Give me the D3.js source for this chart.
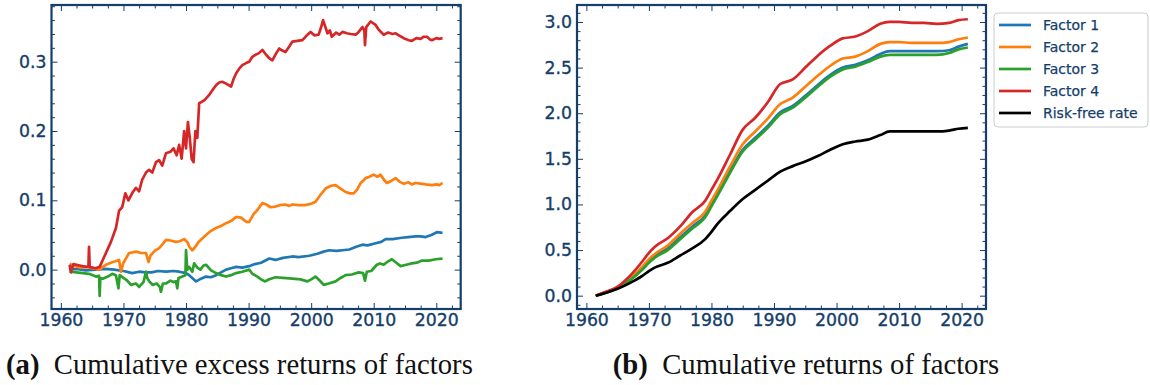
<!DOCTYPE html>
<html>
<head>
<meta charset="utf-8">
<script src="https://cdn.jsdelivr.net/npm/d3@7"></script>
<style>
  body { margin: 0; background: #fff; }
  svg { display: block; }
  .caption { font-family: "Liberation Serif", serif; fill: #111; }
</style>
</head>
<body>
<svg id="fig" width="1150" height="385"></svg>
<script>
// ---- data ----
const seriesNames = ['Factor 1', 'Factor 2', 'Factor 3', 'Factor 4', 'Risk-free rate'];
const seriesColors = ['#1f77b4', '#ff7f0e', '#2ca02c', '#d62728', '#000000'];

const xTicks = [1960, 1970, 1980, 1990, 2000, 2010, 2020];
const yTicksA = [0.0, 0.1, 0.2, 0.3];
const yTicksB = [0.0, 0.5, 1.0, 1.5, 2.0, 2.5, 3.0];

// (a) cumulative excess returns, [year, value]
const f1Excess = [[1961.4,0.0],[1962.5,0.001],[1964.0,-0.001],[1965.5,0.0],[1967.0,0.001],[1968.5,0.0],[1970.0,-0.002],[1971.4,-0.005],[1972.5,-0.003],[1973.5,-0.004],[1974.5,-0.004],[1975.5,-0.002],[1976.8,-0.003],[1978.0,-0.002],[1978.9,-0.003],[1980.0,-0.005],[1980.5,-0.008],[1981.0,-0.012],[1981.6,-0.017],[1982.2,-0.014],[1983.2,-0.01],[1984.0,-0.011],[1984.8,-0.008],[1985.6,-0.004],[1986.4,0.0],[1987.2,0.002],[1988.0,0.004],[1989.0,0.003],[1990.1,0.005],[1991.0,0.008],[1992.0,0.01],[1993.3,0.016],[1994.3,0.014],[1995.5,0.017],[1997.0,0.019],[1998.0,0.018],[1999.7,0.02],[2001.0,0.023],[2002.0,0.026],[2002.9,0.028],[2004.0,0.027],[2005.0,0.028],[2006.1,0.029],[2007.2,0.033],[2008.2,0.036],[2009.0,0.035],[2010.3,0.038],[2011.2,0.04],[2011.9,0.044],[2013.0,0.044],[2014.5,0.046],[2015.5,0.047],[2016.7,0.048],[2017.5,0.048],[2018.3,0.047],[2019.2,0.05],[2020.1,0.054],[2021.0,0.053]];

const f2Excess = [[1961.4,0.008],[1962.0,0.006],[1963.0,0.003],[1964.0,0.004],[1965.0,0.002],[1966.2,0.0],[1966.7,0.004],[1967.2,0.007],[1968.0,0.01],[1968.7,0.012],[1969.3,0.014],[1969.6,-0.003],[1970.0,0.01],[1970.9,0.024],[1971.5,0.025],[1972.0,0.026],[1972.8,0.024],[1973.6,0.024],[1974.0,0.011],[1974.3,0.02],[1975.0,0.027],[1975.7,0.031],[1976.2,0.036],[1976.8,0.043],[1977.5,0.042],[1978.4,0.04],[1979.0,0.041],[1979.7,0.044],[1980.2,0.04],[1980.6,0.032],[1981.0,0.028],[1981.5,0.033],[1982.0,0.04],[1982.6,0.045],[1983.2,0.05],[1984.0,0.056],[1984.8,0.06],[1985.6,0.063],[1986.4,0.067],[1987.2,0.07],[1988.0,0.076],[1988.8,0.075],[1989.6,0.069],[1990.1,0.069],[1990.8,0.08],[1991.4,0.086],[1992.2,0.096],[1992.8,0.094],[1993.5,0.09],[1994.3,0.091],[1995.0,0.093],[1995.8,0.094],[1996.5,0.092],[1997.0,0.094],[1998.0,0.093],[1999.1,0.093],[2000.0,0.095],[2000.7,0.098],[2001.5,0.108],[2002.3,0.117],[2003.2,0.121],[2003.9,0.122],[2004.7,0.117],[2005.5,0.112],[2006.2,0.11],[2006.8,0.11],[2007.4,0.116],[2007.9,0.125],[2008.3,0.128],[2008.7,0.132],[2009.3,0.134],[2010.0,0.137],[2010.6,0.134],[2011.1,0.137],[2011.6,0.13],[2012.1,0.125],[2012.8,0.128],[2013.5,0.132],[2014.1,0.127],[2014.8,0.124],[2015.5,0.126],[2016.1,0.123],[2016.7,0.125],[2017.5,0.124],[2018.3,0.123],[2019.3,0.122],[2020.0,0.123],[2020.5,0.122],[2021.0,0.125]];

const f3Excess = [[1961.4,-0.003],[1962.5,-0.004],[1963.5,-0.005],[1964.5,-0.006],[1965.6,-0.01],[1966.1,-0.009],[1966.2,-0.038],[1966.3,-0.012],[1966.7,-0.013],[1967.5,-0.01],[1968.2,-0.006],[1968.8,-0.008],[1969.2,-0.027],[1969.4,-0.008],[1970.0,-0.012],[1970.5,-0.015],[1971.2,-0.022],[1972.0,-0.02],[1972.5,-0.025],[1973.2,-0.018],[1973.6,-0.003],[1973.8,-0.012],[1974.2,-0.018],[1974.7,-0.022],[1975.3,-0.02],[1975.8,-0.025],[1976.0,-0.032],[1976.3,-0.02],[1976.8,-0.02],[1977.5,-0.016],[1978.0,-0.018],[1978.4,-0.017],[1978.6,-0.027],[1978.8,-0.012],[1979.4,-0.01],[1979.9,-0.008],[1980.0,0.028],[1980.2,0.0],[1980.5,0.004],[1981.0,-0.003],[1981.3,0.009],[1981.8,0.003],[1982.3,0.0],[1982.8,0.006],[1983.2,0.007],[1984.0,-0.001],[1984.8,-0.005],[1985.6,-0.008],[1986.4,-0.01],[1987.2,-0.008],[1988.0,-0.005],[1989.0,-0.003],[1990.1,0.0],[1990.6,-0.006],[1991.4,-0.01],[1992.0,-0.014],[1992.6,-0.017],[1993.3,-0.014],[1994.3,-0.011],[1995.5,-0.012],[1997.0,-0.013],[1998.3,-0.014],[1999.4,-0.017],[2000.0,-0.014],[2000.7,-0.01],[2001.4,-0.016],[2002.0,-0.022],[2002.8,-0.02],[2003.9,-0.017],[2004.7,-0.012],[2005.5,-0.008],[2006.5,-0.007],[2007.6,-0.004],[2008.3,-0.005],[2008.6,-0.016],[2008.9,-0.003],[2009.6,-0.002],[2010.5,0.007],[2011.0,0.009],[2011.6,0.007],[2012.3,0.012],[2012.9,0.015],[2013.6,0.01],[2014.3,0.005],[2015.2,0.007],[2016.1,0.009],[2016.9,0.01],[2017.7,0.013],[2018.8,0.013],[2019.9,0.015],[2021.0,0.016]];

const f4Excess = [[1961.4,0.007],[1961.6,-0.004],[1962.0,0.008],[1963.0,0.006],[1964.0,0.004],[1964.4,0.005],[1964.5,0.033],[1964.6,0.004],[1965.5,0.002],[1966.2,0.004],[1967.0,0.02],[1968.0,0.04],[1968.8,0.06],[1969.3,0.085],[1969.8,0.09],[1970.3,0.11],[1970.8,0.1],[1971.5,0.112],[1972.0,0.118],[1972.5,0.113],[1973.0,0.13],[1973.6,0.14],[1974.1,0.144],[1974.6,0.14],[1975.2,0.155],[1975.7,0.158],[1976.2,0.15],[1976.8,0.168],[1977.5,0.17],[1978.0,0.175],[1978.5,0.165],[1978.9,0.18],[1979.3,0.16],[1979.7,0.2],[1980.0,0.175],[1980.3,0.213],[1980.6,0.19],[1980.9,0.16],[1981.2,0.155],[1981.5,0.2],[1981.8,0.19],[1982.1,0.24],[1982.5,0.242],[1983.0,0.245],[1983.7,0.252],[1984.3,0.26],[1984.8,0.266],[1985.3,0.27],[1985.8,0.271],[1986.5,0.268],[1987.2,0.264],[1987.6,0.275],[1988.0,0.283],[1988.5,0.29],[1989.0,0.295],[1989.6,0.298],[1990.1,0.3],[1990.6,0.307],[1991.1,0.31],[1991.6,0.312],[1992.2,0.317],[1992.8,0.31],[1993.3,0.305],[1993.8,0.302],[1994.4,0.312],[1994.9,0.319],[1995.4,0.316],[1995.9,0.314],[1996.5,0.322],[1997.0,0.329],[1997.8,0.33],[1998.6,0.331],[1999.2,0.337],[1999.9,0.343],[2000.5,0.338],[2001.2,0.339],[2001.6,0.35],[2001.9,0.36],[2002.2,0.352],[2002.6,0.341],[2003.0,0.345],[2003.3,0.336],[2004.0,0.342],[2004.5,0.339],[2005.0,0.343],[2005.7,0.341],[2006.3,0.34],[2007.1,0.339],[2007.6,0.343],[2008.2,0.35],[2008.5,0.345],[2008.6,0.324],[2008.8,0.35],[2009.5,0.358],[2010.3,0.353],[2010.8,0.346],[2011.6,0.339],[2012.3,0.342],[2013.0,0.34],[2013.5,0.341],[2014.2,0.337],[2015.0,0.333],[2015.6,0.331],[2016.1,0.33],[2016.8,0.334],[2017.5,0.333],[2018.0,0.336],[2018.5,0.336],[2019.0,0.332],[2019.3,0.331],[2020.0,0.334],[2020.5,0.333],[2021.0,0.334]];

// (b) cumulative returns, on a shared year grid
const yearsB = [1961.5,1963,1965,1967,1969,1970,1971,1973,1975,1977,1979,1980,1981,1983,1985,1987,1989,1991,1993,1995,1997,1999,2001,2003,2005,2007,2008.5,2010,2012,2014,2016,2018,2019.5,2021];
const f1Total = [0,0.03,0.085,0.18,0.30,0.38,0.44,0.52,0.64,0.76,0.88,1.00,1.12,1.37,1.60,1.73,1.86,2.01,2.08,2.19,2.31,2.42,2.50,2.53,2.58,2.65,2.68,2.68,2.68,2.68,2.68,2.69,2.73,2.76];
const f2Total = [0,0.035,0.09,0.19,0.32,0.40,0.46,0.55,0.68,0.80,0.92,1.04,1.16,1.42,1.66,1.80,1.94,2.10,2.17,2.29,2.41,2.52,2.60,2.62,2.68,2.76,2.78,2.78,2.77,2.77,2.77,2.78,2.81,2.83];
const f3Total = [0,0.03,0.08,0.17,0.29,0.36,0.42,0.50,0.62,0.74,0.86,0.98,1.10,1.35,1.58,1.71,1.84,1.99,2.06,2.17,2.29,2.40,2.48,2.51,2.56,2.62,2.64,2.64,2.64,2.64,2.64,2.66,2.70,2.72];
const f4Total = [0,0.04,0.10,0.22,0.38,0.47,0.54,0.63,0.76,0.92,1.04,1.16,1.28,1.55,1.82,1.95,2.12,2.32,2.37,2.50,2.63,2.74,2.82,2.84,2.90,2.98,3.00,3.00,2.99,2.99,2.98,2.99,3.02,3.03];
const rfTotal = [0,0.03,0.075,0.14,0.22,0.27,0.31,0.36,0.44,0.52,0.62,0.70,0.79,0.93,1.06,1.16,1.26,1.36,1.42,1.47,1.53,1.60,1.66,1.69,1.71,1.76,1.80,1.80,1.80,1.80,1.80,1.81,1.83,1.84];

const captionA = 'Cumulative excess returns of factors';
const captionB = 'Cumulative returns of factors';

// ---- drawing ----
const navy = '#153e6a';
const svg = d3.select('#fig');
const plotTop = 5, plotBottom = 309;

// size tick labels so that "1960" is ~44px wide, as in the picture
const probe = svg.append('text')
  .style('font-family', '"DejaVu Sans", sans-serif').style('font-size', '20px').text('1960');
const tickFont = 20 * 44 / probe.node().getComputedTextLength();
probe.remove();

function panel(x0, x1, yDomain, majorY, minorStep, lines, curve) {
  const x = d3.scaleLinear().domain([1958.5, 2023.9]).range([x0, x1]);
  const y = d3.scaleLinear().domain(yDomain).range([plotBottom, plotTop]);
  const g = svg.append('g');

  const minorX = d3.range(1957.5, 2025, 2.5).filter(v => v > x.domain()[0] && v < x.domain()[1] && v % 10 !== 0);
  const minorY = d3.range(Math.ceil(yDomain[0] / minorStep) * minorStep, yDomain[1], minorStep)
                   .filter(v => !majorY.some(m => Math.abs(m - v) < 1e-6));

  const add = (axis, tr) => {
    const a = g.append('g').attr('transform', tr).call(axis);
    a.attr('font-size', null).attr('font-family', null);
    a.select('.domain').remove();
    a.selectAll('line').attr('stroke', navy);
    a.selectAll('text')
     .style('font-family', '"DejaVu Sans", sans-serif')
     .style('font-size', tickFont + 'px')
     .attr('fill', navy)
     .attr('stroke', navy).attr('stroke-width', 0.35);
    return a;
  };
  add(d3.axisBottom(x).tickValues(xTicks).tickSize(-6).tickPadding(5).tickFormat(d3.format('d')), `translate(0,${plotBottom})`);
  add(d3.axisBottom(x).tickValues(minorX).tickSize(-3.5).tickFormat(''), `translate(0,${plotBottom})`);
  add(d3.axisTop(x).tickValues(xTicks).tickSize(-6).tickFormat(''), `translate(0,${plotTop})`);
  add(d3.axisTop(x).tickValues(minorX).tickSize(-3.5).tickFormat(''), `translate(0,${plotTop})`);
  add(d3.axisLeft(y).tickValues(majorY).tickSize(-6).tickPadding(5).tickFormat(d3.format('.1f')), `translate(${x0},0)`);
  add(d3.axisLeft(y).tickValues(minorY).tickSize(-3.5).tickFormat(''), `translate(${x0},0)`);
  add(d3.axisRight(y).tickValues(majorY).tickSize(-6).tickFormat(''), `translate(${x1},0)`);
  add(d3.axisRight(y).tickValues(minorY).tickSize(-3.5).tickFormat(''), `translate(${x1},0)`);

  const line = d3.line().x(d => x(d[0])).y(d => y(d[1])).curve(curve);
  lines.forEach(l => {
    g.append('path')
     .attr('d', line(l.data))
     .attr('fill', 'none')
     .attr('stroke', l.color)
     .attr('stroke-width', 2.7)
     .attr('stroke-linejoin', 'round');
  });

  g.append('rect')
   .attr('x', x0).attr('y', plotTop)
   .attr('width', x1 - x0).attr('height', plotBottom - plotTop)
   .attr('fill', 'none').attr('stroke', navy).attr('stroke-width', 2.2);
}

panel(51.5, 460.7, [-0.0568, 0.3818], yTicksA, 0.02,
  [f1Excess, f2Excess, f3Excess, f4Excess].map((d, i) => ({data: d, color: seriesColors[i]})),
  d3.curveLinear);

const zipB = vals => yearsB.map((yr, i) => [yr, vals[i]]);
panel(577, 986, [-0.146, 3.186], yTicksB, 0.1,
  [f1Total, f2Total, f3Total, f4Total, rfTotal].map((d, i) => ({data: zipB(d), color: seriesColors[i]})),
  d3.curveMonotoneX);

// legend
const lg = svg.append('g').attr('transform', 'translate(994,13)');
lg.append('rect').attr('width', 154).attr('height', 114).attr('rx', 4)
  .attr('fill', '#fff').attr('stroke', '#cccccc').attr('stroke-width', 1);
seriesNames.forEach((name, i) => {
  const yy = 12 + i * 22;
  lg.append('line').attr('x1', 5).attr('x2', 37).attr('y1', yy).attr('y2', yy)
    .attr('stroke', seriesColors[i]).attr('stroke-width', 2.7);
  lg.append('text').attr('x', 49).attr('y', yy + 5)
    .style('font-family', '"DejaVu Sans", sans-serif').style('font-size', '14px')
    .attr('fill', navy).attr('stroke', navy).attr('stroke-width', 0.25).text(name);
});

// captions
function caption(label, body) {
  const t = svg.append('text').attr('class', 'caption').attr('y', 374);
  t.append('tspan').attr('font-weight', 'bold').text(`(${label})`);
  t.append('tspan').text('\u2002' + body);
  return t;
}
const ca = caption('a', captionA);
const cb = caption('b', captionB);
let fs = 26;
ca.style('font-size', fs + 'px');
const wa = ca.node().getComputedTextLength();
fs = fs * 467 / wa;
ca.style('font-size', fs + 'px').attr('x', 6);
cb.style('font-size', fs + 'px');
const wb = cb.node().getComputedTextLength();
cb.attr('x', 806 - wb / 2);
</script>
</body>
</html>
